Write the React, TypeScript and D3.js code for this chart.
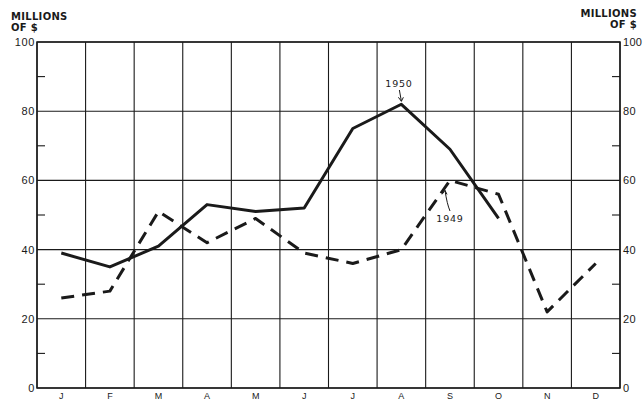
import React from "react";
import * as d3 from "d3";

const months = ["J", "F", "M", "A", "M", "J", "J", "A", "S", "O", "N", "D"];
const values1950 = [39, 35, 41, 53, 51, 52, 75, 82, 69, 49];
const values1949 = [26, 28, 51, 42, 49, 39, 36, 40, 60, 56, 22, 36];
const majorTicks = [0, 20, 40, 60, 80, 100];
const minorTicks = [10, 30, 50, 70, 90];

const W = 644, H = 400;
const left = 37, right = 620, top = 42, bottom = 388;

export default function App() {
  const x = d3.scaleBand<number>().domain(d3.range(12)).range([left, right]);
  const y = d3.scaleLinear().domain([0, 100]).range([bottom, top]);
  const cx = (i: number) => (x(i) as number) + x.bandwidth() / 2;
  const line = d3.line<number>().x((_, i) => cx(i)).y((d) => y(d));
  const font = "'DejaVu Sans', sans-serif";
  const tickFont = "'Liberation Sans', Arial, sans-serif";
  const ink = "#1a1a1a";
  return (
    <svg width={W} height={H} style={{ position: "absolute", left: 0, top: 0, background: "#fff" }} fontFamily={font}>
      {/* vertical grid */}
      {d3.range(13).map((i) => {
        const xx = i === 12 ? right : (x(i) as number);
        return <line key={"v" + i} x1={xx} x2={xx} y1={top} y2={bottom} stroke={ink} strokeWidth={1.1} />;
      })}
      {majorTicks.map((t) => (
        <line key={"h" + t} x1={left} x2={right} y1={y(t)} y2={y(t)} stroke={ink} strokeWidth={1.1} />
      ))}
      {minorTicks.map((t) => (
        <g key={"m" + t}>
          <line x1={left} x2={left + 8} y1={y(t)} y2={y(t)} stroke={ink} strokeWidth={1.1} />
          <line x1={right - 8} x2={right} y1={y(t)} y2={y(t)} stroke={ink} strokeWidth={1.1} />
        </g>
      ))}
      <rect x={left} y={top} width={right - left} height={bottom - top} fill="none" stroke={ink} strokeWidth={1.5} />
      {/* axis labels */}
      {majorTicks.map((t) => (
        <text key={"l" + t} x={left - 2} y={y(t) + 4} textAnchor="end" fontSize={11} fill={ink} fontFamily={tickFont} letterSpacing={0.6}>
          {t}
        </text>
      ))}
      {majorTicks.map((t) => (
        <text key={"r" + t} x={right + 3} y={y(t) + 4} textAnchor="start" fontSize={11} fill={ink} fontFamily={tickFont} letterSpacing={0.3}>
          {t}
        </text>
      ))}
      <text x={11} y={20} fontSize={10} fontWeight="bold" fill={ink} letterSpacing={0.3}>MILLIONS</text>
      <text x={11} y={31} fontSize={10} fontWeight="bold" fill={ink} letterSpacing={0.3}>OF $</text>
      <text x={637} y={17} fontSize={10} fontWeight="bold" fill={ink} textAnchor="end" letterSpacing={0.3}>MILLIONS</text>
      <text x={637} y={28} fontSize={10} fontWeight="bold" fill={ink} textAnchor="end" letterSpacing={0.3}>OF $</text>
      {/* month labels */}
      {months.map((m, i) => (
        <text key={"x" + i} x={cx(i)} y={399} textAnchor="middle" fontSize={9} fill={ink} fontFamily={tickFont}>
          {m}
        </text>
      ))}
      {/* series */}
      <path d={line(values1949) as string} fill="none" stroke={ink} strokeWidth={3} strokeDasharray="13,8" strokeLinejoin="round" />
      <path d={line(values1950) as string} fill="none" stroke={ink} strokeWidth={3} strokeLinejoin="round" />
      {/* annotations */}
      <text x={399} y={87} textAnchor="middle" fontSize={9.5} fill={ink} letterSpacing={0.8}>1950</text>
      <path d={`M ${cx(7) - 2} ${90} L ${cx(7)} ${y(82) - 3}`} fill="none" stroke={ink} strokeWidth={1} />
      <path d={`M ${cx(7) - 3} ${y(82) - 7} L ${cx(7)} ${y(82) - 3} L ${cx(7) + 2} ${y(82) - 7}`} fill="none" stroke={ink} strokeWidth={1} />
      <text x={450} y={222} textAnchor="middle" fontSize={9.5} fill={ink} letterSpacing={0.8}>1949</text>
      <path d={`M ${450} ${211} Q ${447} ${204} ${445} ${y(60) + 10}`} fill="none" stroke={ink} strokeWidth={1} />
      <path d={`M ${442} ${y(60) + 14} L ${445} ${y(60) + 10} L ${447} ${y(60) + 14}`} fill="none" stroke={ink} strokeWidth={1} />
    </svg>
  );
}
